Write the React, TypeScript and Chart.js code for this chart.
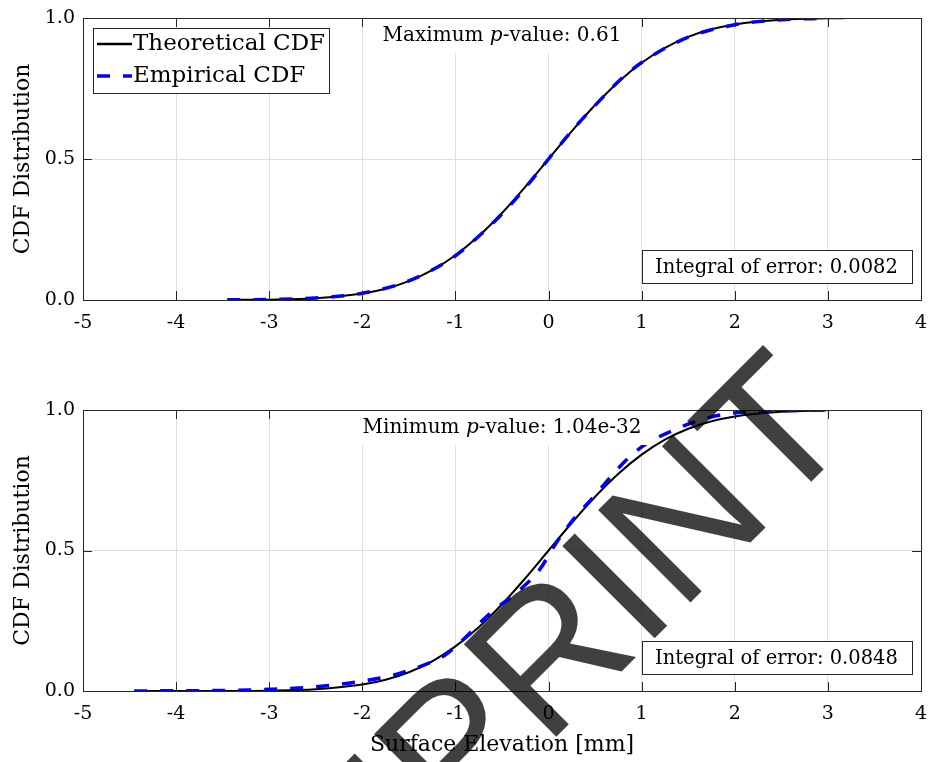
import React, { useEffect, useRef } from "react";
import { Chart, registerables } from "chart.js";

Chart.register(...registerables);

// ---------------- data ----------------
const xTickValues = [-5, -4, -3, -2, -1, 0, 1, 2, 3, 4];
const yTickValues = [0, 0.5, 1];

const seriesLabels = ["Theoretical CDF", "Empirical CDF"];

// top panel
const topTheoX = [-3.45, -3.0, -2.5, -2.0, -1.75, -1.5, -1.25, -1.0, -0.75, -0.5, -0.25, 0, 0.25, 0.5, 0.75, 1.0, 1.25, 1.5, 1.75, 2.0, 2.5, 3.0, 3.18];
const topTheoY = [0.0003, 0.0013, 0.0062, 0.0228, 0.0401, 0.0668, 0.1056, 0.1587, 0.2266, 0.3085, 0.4013, 0.5, 0.5987, 0.6915, 0.7734, 0.8413, 0.8944, 0.9332, 0.9599, 0.9772, 0.9938, 0.9987, 0.9993];
const topEmpX = [-3.45, -3.0, -2.5, -2.0, -1.5, -1.0, -0.75, -0.5, -0.25, 0, 0.25, 0.5, 0.75, 1.0, 1.5, 2.0, 2.5, 3.0];
const topEmpY = [0.0005, 0.002, 0.007, 0.024, 0.068, 0.157, 0.226, 0.305, 0.398, 0.5, 0.6, 0.69, 0.775, 0.842, 0.932, 0.976, 0.994, 0.999];

// bottom panel
const botTheoX = [-4.45, -4.0, -3.5, -3.0, -2.5, -2.0, -1.75, -1.5, -1.25, -1.0, -0.75, -0.5, -0.25, 0, 0.25, 0.5, 0.75, 1.0, 1.25, 1.5, 1.75, 2.0, 2.5, 2.98];
const botTheoY = [0, 0.00003, 0.0002, 0.0013, 0.0062, 0.0228, 0.0401, 0.0668, 0.1056, 0.1587, 0.2266, 0.3085, 0.4013, 0.5, 0.5987, 0.6915, 0.7734, 0.8413, 0.8944, 0.9332, 0.9599, 0.9772, 0.9938, 0.9986];
const botEmpX = [-4.45, -4.0, -3.5, -3.0, -2.5, -2.0, -1.7, -1.4, -1.13, -0.96, -0.63, -0.31, -0.1, 0.08, 0.26, 0.48, 0.77, 0.92, 1.05, 1.34, 1.62, 1.91, 2.3, 2.6, 3.0];
const botEmpY = [0, 0.001, 0.002, 0.006, 0.015, 0.035, 0.054, 0.085, 0.124, 0.17, 0.276, 0.36, 0.43, 0.526, 0.608, 0.69, 0.8, 0.848, 0.88, 0.928, 0.963, 0.986, 0.996, 0.998, 1.0];

const topTitle = ["Maximum ", "p", "-value: 0.61"];
const botTitle = ["Minimum ", "p", "-value: 1.04e-32"];
const topIntegral = "Integral of error: 0.0082";
const botIntegral = "Integral of error: 0.0848";
const xAxisTitle = "Surface Elevation [mm]";
const yAxisTitle = "CDF Distribution";
const watermarkText = "PREPRINT";

// ---------------- styling ----------------
const SERIF = "'DejaVu Serif', serif";
const AXIS_COLOR = "#262626";
const GRID_COLOR = "#dfdfdf";
const W = 928;
const H1 = 381;
const H2 = 381;

function toPoints(xs: number[], ys: number[]) {
  return xs.map((x, i) => ({ x, y: ys[i] }));
}

const matlabPlugin = {
  id: "matlabDecor",
  afterDraw(chart: any) {
    const opts = chart.options.plugins.matlabDecor || {};
    const ctx = chart.ctx;
    const { left, right, top, bottom } = chart.chartArea;
    const xs = chart.scales.x;
    const ys = chart.scales.y;
    const TL = 9;
    ctx.save();
    // inner ticks
    ctx.strokeStyle = AXIS_COLOR;
    ctx.lineWidth = 1;
    ctx.beginPath();
    xs.ticks.forEach((t: any) => {
      const px = Math.round(xs.getPixelForValue(t.value)) + 0.5;
      ctx.moveTo(px, bottom);
      ctx.lineTo(px, bottom - TL);
      ctx.moveTo(px, top);
      ctx.lineTo(px, top + TL);
    });
    ys.ticks.forEach((t: any) => {
      const py = Math.round(ys.getPixelForValue(t.value)) + 0.5;
      ctx.moveTo(left, py);
      ctx.lineTo(left + TL, py);
      ctx.moveTo(right, py);
      ctx.lineTo(right - TL, py);
    });
    ctx.stroke();

    // title annotation with white background
    if (opts.title) {
      const [a, b, c] = opts.title as string[];
      const fN = `20px ${SERIF}`;
      const fI = `italic 20px ${SERIF}`;
      ctx.font = fN;
      const wa = ctx.measureText(a).width;
      const wc = ctx.measureText(c).width;
      ctx.font = fI;
      const wb = ctx.measureText(b).width;
      const tw = wa + wb + wc;
      const cx = (left + right) / 2;
      const bx = cx - tw / 2 - 10;
      ctx.fillStyle = "#ffffff";
      ctx.fillRect(bx, top + 1, tw + 20, 34);
      ctx.fillStyle = "#000000";
      ctx.textBaseline = "middle";
      ctx.textAlign = "left";
      const ty = top + 18;
      let x0 = cx - tw / 2;
      ctx.font = fN;
      ctx.fillText(a, x0, ty);
      x0 += wa;
      ctx.font = fI;
      ctx.fillText(b, x0, ty);
      x0 += wb;
      ctx.font = fN;
      ctx.fillText(c, x0, ty);
    }

    // integral box
    if (opts.integral) {
      ctx.font = `19.5px ${SERIF}`;
      const tw = ctx.measureText(opts.integral).width;
      const bw = Math.round(tw + 27);
      const bh = 33;
      const bxr = Math.round(right - 9);
      const bx = bxr - bw;
      const by = Math.round(bottom - 17 - bh);
      ctx.fillStyle = "#ffffff";
      ctx.fillRect(bx, by, bw, bh);
      ctx.strokeStyle = AXIS_COLOR;
      ctx.strokeRect(bx + 0.5, by + 0.5, bw, bh);
      ctx.fillStyle = "#000000";
      ctx.textAlign = "left";
      ctx.textBaseline = "middle";
      ctx.fillText(opts.integral, bx + 13, by + bh / 2 + 1);
    }

    // legend box
    if (opts.legend) {
      const ds = chart.data.datasets;
      ctx.font = `23px ${SERIF}`;
      let mw = 0;
      ds.forEach((d: any) => {
        mw = Math.max(mw, ctx.measureText(d.label).width);
      });
      const x0 = Math.round(left + 10);
      const y0 = Math.round(top + 10);
      const bw = Math.round(40 + mw + 4);
      const bh = 65;
      ctx.fillStyle = "#ffffff";
      ctx.fillRect(x0, y0, bw, bh);
      ctx.strokeStyle = AXIS_COLOR;
      ctx.lineWidth = 1;
      ctx.strokeRect(x0 + 0.5, y0 + 0.5, bw, bh);
      ds.forEach((d: any, i: number) => {
        const ry = y0 + 16 + i * 32;
        ctx.save();
        ctx.strokeStyle = d.borderColor;
        ctx.lineWidth = i === 0 ? 2.5 : d.borderWidth;
        ctx.setLineDash(d.borderDash || []);
        ctx.beginPath();
        ctx.moveTo(x0 + 4, ry);
        ctx.lineTo(x0 + 39, ry);
        ctx.stroke();
        ctx.restore();
        ctx.fillStyle = "#000000";
        ctx.textAlign = "left";
        ctx.textBaseline = "middle";
        ctx.font = `23px ${SERIF}`;
        ctx.fillText(d.label, x0 + 40, ry);
      });
    }

    // frame
    ctx.strokeStyle = AXIS_COLOR;
    ctx.lineWidth = 1;
    ctx.setLineDash([]);
    ctx.strokeRect(Math.round(left) + 0.5, Math.round(top) + 0.5, Math.round(right - left), Math.round(bottom - top));
    ctx.restore();
  },
};

function makeConfig(
  theoX: number[], theoY: number[], empX: number[], empY: number[],
  padTop: number, xHeight: number, showXTitle: boolean, decor: any
): any {
  return {
    type: "line",
    data: {
      datasets: [
        {
          label: seriesLabels[0],
          data: toPoints(theoX, theoY),
          borderColor: "#000000",
          borderWidth: 2,
          pointRadius: 0,
          cubicInterpolationMode: "monotone",
          fill: false,
          order: 1,
        },
        {
          label: seriesLabels[1],
          data: toPoints(empX, empY),
          borderColor: "#0000ff",
          borderWidth: 3.5,
          borderDash: [13, 13],
          pointRadius: 0,
          cubicInterpolationMode: "monotone",
          fill: false,
          order: 0,
        },
      ],
    },
    options: {
      responsive: false,
      maintainAspectRatio: false,
      animation: false,
      devicePixelRatio: 1,
      events: [],
      layout: { padding: { top: padTop, right: 7, left: 0, bottom: 0 } },
      plugins: {
        legend: { display: false },
        tooltip: { enabled: false },
        matlabDecor: decor,
      },
      scales: {
        x: {
          type: "linear",
          min: -5,
          max: 4,
          afterBuildTicks: (s: any) => {
            s.ticks = xTickValues.map((v) => ({ value: v }));
          },
          grid: { color: GRID_COLOR, drawTicks: false, lineWidth: 1 },
          border: { display: false },
          ticks: {
            color: "#000000",
            font: { family: SERIF, size: 19 },
            padding: 12,
            maxRotation: 0,
            autoSkip: false,
            callback: (v: any) => String(v),
          },
          title: {
            display: showXTitle,
            text: xAxisTitle,
            color: "#000000",
            font: { family: SERIF, size: 22 },
            padding: { top: 0, bottom: 4 },
          },
          afterFit: (s: any) => {
            s.height = xHeight;
            s.paddingLeft = 0;
            s.paddingRight = 0;
          },
        },
        y: {
          type: "linear",
          min: 0,
          max: 1,
          afterBuildTicks: (s: any) => {
            s.ticks = yTickValues.map((v) => ({ value: v }));
          },
          grid: { color: GRID_COLOR, drawTicks: false, lineWidth: 1 },
          border: { display: false },
          ticks: {
            color: "#000000",
            font: { family: SERIF, size: 19 },
            padding: 8,
            callback: (v: any) => Number(v).toFixed(1),
          },
          title: {
            display: true,
            text: yAxisTitle,
            color: "#000000",
            font: { family: SERIF, size: 22 },
            padding: { top: 10, bottom: 0 },
          },
          afterFit: (s: any) => {
            s.width = 83;
            s.paddingTop = 0;
            s.paddingBottom = 0;
          },
        },
      },
    },
    plugins: [matlabPlugin],
  };
}

export default function App() {
  const c1 = useRef<HTMLCanvasElement>(null);
  const c2 = useRef<HTMLCanvasElement>(null);
  const c3 = useRef<HTMLCanvasElement>(null);

  useEffect(() => {
    document.body.style.margin = "0";
    const ch1 = new Chart(
      c1.current as HTMLCanvasElement,
      makeConfig(topTheoX, topTheoY, topEmpX, topEmpY, 18, 81, false, {
        title: topTitle,
        integral: topIntegral,
        legend: true,
      })
    );
    const ch2 = new Chart(
      c2.current as HTMLCanvasElement,
      makeConfig(botTheoX, botTheoY, botEmpX, botEmpY, 29, 71, true, {
        title: botTitle,
        integral: botIntegral,
        legend: false,
      })
    );
    // watermark overlay
    const cv = c3.current as HTMLCanvasElement;
    const ctx = cv.getContext("2d");
    if (ctx) {
      ctx.clearRect(0, 0, cv.width, cv.height);
      ctx.save();
      ctx.translate(519, 774);
      ctx.rotate((-45 * Math.PI) / 180);
      ctx.font = "190px 'Liberation Sans', Arial, sans-serif";
      ctx.fillStyle = "rgba(0,0,0,0.75)";
      ctx.textAlign = "center";
      ctx.textBaseline = "alphabetic";
      ctx.fillText(watermarkText, 0, 0);
      ctx.restore();
    }
    return () => {
      ch1.destroy();
      ch2.destroy();
    };
  }, []);

  return (
    <div style={{ position: "relative", width: W, height: H1 + H2, background: "#ffffff", overflow: "hidden" }}>
      <canvas ref={c1} width={W} height={H1} style={{ position: "absolute", left: 0, top: 0, width: W, height: H1 }} />
      <canvas ref={c2} width={W} height={H2} style={{ position: "absolute", left: 0, top: H1, width: W, height: H2 }} />
      <canvas ref={c3} width={W} height={H1 + H2} style={{ position: "absolute", left: 0, top: 0, width: W, height: H1 + H2, pointerEvents: "none" }} />
    </div>
  );
}
